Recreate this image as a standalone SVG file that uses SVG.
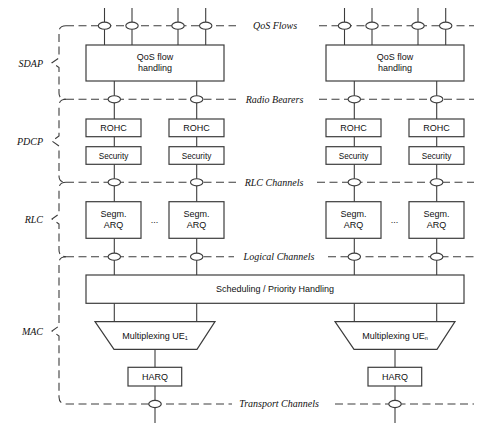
<svg xmlns="http://www.w3.org/2000/svg" width="486" height="437" viewBox="0 0 486 437">
<style>
.box{fill:#fff;stroke:#3c3c3c;stroke-width:1.2}
.ln{stroke:#3c3c3c;stroke-width:1.1;fill:none}
.dash{stroke:#3c3c3c;stroke-width:1.1;fill:none;stroke-dasharray:8,4.5}
.ov{fill:#fff;stroke:#3c3c3c;stroke-width:1.1}
.t{font-family:"Liberation Sans",Arial,sans-serif;font-size:9px;fill:#111;text-anchor:middle}
.lab{font-family:"Liberation Serif","Times New Roman",serif;font-style:italic;font-size:10px;fill:#111}
.lc{text-anchor:middle}
.lr{text-anchor:end}
</style>
<rect width="486" height="437" fill="#fff"/>
<g id="connectors">
  <!-- horizontal dashed channel lines -->
  <line class="dash" x1="66" y1="25.7" x2="236" y2="25.7"/>
  <line class="dash" x1="319" y1="25.7" x2="474" y2="25.7"/>
  <line class="dash" x1="66" y1="99.3" x2="236" y2="99.3"/>
  <line class="dash" x1="319" y1="99.3" x2="474" y2="99.3"/>
  <line class="dash" x1="66" y1="182.3" x2="236" y2="182.3"/>
  <line class="dash" x1="317" y1="182.3" x2="474" y2="182.3"/>
  <line class="dash" x1="66" y1="256.7" x2="234" y2="256.7"/>
  <line class="dash" x1="328" y1="256.7" x2="474" y2="256.7"/>
  <line class="dash" x1="66" y1="404" x2="232" y2="404"/>
  <line class="dash" x1="335" y1="404" x2="474" y2="404"/>
  <!-- left braces -->
  <path class="dash" d="M66,25.7 Q59,25.7 59,32 V58 L52,62.7 L59,67.5 V93 Q59,99.3 66,99.3"/>
  <path class="dash" d="M66,99.3 Q59,99.3 59,106 V136 L52,141 L59,146 V176 Q59,182.3 66,182.3"/>
  <path class="dash" d="M66,182.3 Q59,182.3 59,189 V214 L52,219 L59,224 V250 Q59,256.7 66,256.7"/>
  <path class="dash" d="M66,256.7 Q59,256.7 59,263 V326 L52,331 L59,336 V397 Q59,404 66,404"/>
  <!-- top flow lines -->
  <line class="ln" x1="104.5" y1="8" x2="104.5" y2="45"/>
  <line class="ln" x1="132" y1="8" x2="132" y2="45"/>
  <line class="ln" x1="178" y1="8" x2="178" y2="45"/>
  <line class="ln" x1="205.7" y1="8" x2="205.7" y2="45"/>
  <line class="ln" x1="344.5" y1="8" x2="344.5" y2="45"/>
  <line class="ln" x1="372" y1="8" x2="372" y2="45"/>
  <line class="ln" x1="418" y1="8" x2="418" y2="45"/>
  <line class="ln" x1="445.7" y1="8" x2="445.7" y2="45"/>
  <!-- bearer lines through stacks -->
  <line class="ln" x1="114.3" y1="81" x2="114.3" y2="322"/>
  <line class="ln" x1="196.7" y1="81" x2="196.7" y2="322"/>
  <line class="ln" x1="354.3" y1="81" x2="354.3" y2="322"/>
  <line class="ln" x1="436.7" y1="81" x2="436.7" y2="322"/>
  <!-- mux to HARQ to transport -->
  <line class="ln" x1="155" y1="349" x2="155" y2="423"/>
  <line class="ln" x1="395" y1="349" x2="395" y2="423"/>
  <!-- ovals -->
  <ellipse class="ov" cx="104.5" cy="25.7" rx="6.2" ry="3.6"/>
  <ellipse class="ov" cx="132" cy="25.7" rx="6.2" ry="3.6"/>
  <ellipse class="ov" cx="178" cy="25.7" rx="6.2" ry="3.6"/>
  <ellipse class="ov" cx="205.7" cy="25.7" rx="6.2" ry="3.6"/>
  <ellipse class="ov" cx="344.5" cy="25.7" rx="6.2" ry="3.6"/>
  <ellipse class="ov" cx="372" cy="25.7" rx="6.2" ry="3.6"/>
  <ellipse class="ov" cx="418" cy="25.7" rx="6.2" ry="3.6"/>
  <ellipse class="ov" cx="445.7" cy="25.7" rx="6.2" ry="3.6"/>
  <ellipse class="ov" cx="114.3" cy="99.3" rx="6.2" ry="3.6"/>
  <ellipse class="ov" cx="196.7" cy="99.3" rx="6.2" ry="3.6"/>
  <ellipse class="ov" cx="354.3" cy="99.3" rx="6.2" ry="3.6"/>
  <ellipse class="ov" cx="436.7" cy="99.3" rx="6.2" ry="3.6"/>
  <ellipse class="ov" cx="114.3" cy="182.3" rx="6.2" ry="3.6"/>
  <ellipse class="ov" cx="196.7" cy="182.3" rx="6.2" ry="3.6"/>
  <ellipse class="ov" cx="354.3" cy="182.3" rx="6.2" ry="3.6"/>
  <ellipse class="ov" cx="436.7" cy="182.3" rx="6.2" ry="3.6"/>
  <ellipse class="ov" cx="114.3" cy="256.7" rx="6.2" ry="3.6"/>
  <ellipse class="ov" cx="196.7" cy="256.7" rx="6.2" ry="3.6"/>
  <ellipse class="ov" cx="354.3" cy="256.7" rx="6.2" ry="3.6"/>
  <ellipse class="ov" cx="436.7" cy="256.7" rx="6.2" ry="3.6"/>
  <ellipse class="ov" cx="155" cy="404" rx="6.2" ry="3.6"/>
  <ellipse class="ov" cx="395" cy="404" rx="6.2" ry="3.6"/>
</g>
<g id="channel-labels">
  <text class="lab lc" x="275" y="29">QoS Flows</text>
  <text class="lab lc" x="274.5" y="102.7">Radio Bearers</text>
  <text class="lab lc" x="274" y="185.7">RLC Channels</text>
  <text class="lab lc" x="279" y="260">Logical Channels</text>
  <text class="lab lc" x="279" y="407.3">Transport Channels</text>
</g>
<g id="layer-labels">
  <text class="lab lr" x="43" y="66.5">SDAP</text>
  <text class="lab lr" x="43" y="144.5">PDCP</text>
  <text class="lab lr" x="43" y="222.5">RLC</text>
  <text class="lab lr" x="43" y="334.5">MAC</text>
</g>
<g id="qos1"><rect class="box" x="86" y="45" width="138" height="36"/><text class="t" x="155" y="60">QoS flow</text><text class="t" x="155" y="70.5">handling</text></g>
<g id="qos2"><rect class="box" x="326" y="45" width="138" height="36"/><text class="t" x="395" y="60">QoS flow</text><text class="t" x="395" y="70.5">handling</text></g>
<g id="rohc1"><rect class="box" x="86" y="119" width="55" height="17.7"/><text class="t" x="113.5" y="131">ROHC</text></g>
<g id="rohc2"><rect class="box" x="169" y="119" width="55" height="17.7"/><text class="t" x="196.5" y="131">ROHC</text></g>
<g id="rohc3"><rect class="box" x="326" y="119" width="55" height="17.7"/><text class="t" x="353.5" y="131">ROHC</text></g>
<g id="rohc4"><rect class="box" x="409" y="119" width="55" height="17.7"/><text class="t" x="436.5" y="131">ROHC</text></g>
<g id="sec1"><rect class="box" x="86" y="146.7" width="55" height="17.6"/><text class="t" x="113.5" y="158.5" style="font-size:8.2px">Security</text></g>
<g id="sec2"><rect class="box" x="169" y="146.7" width="55" height="17.6"/><text class="t" x="196.5" y="158.5" style="font-size:8.2px">Security</text></g>
<g id="sec3"><rect class="box" x="326" y="146.7" width="55" height="17.6"/><text class="t" x="353.5" y="158.5" style="font-size:8.2px">Security</text></g>
<g id="sec4"><rect class="box" x="409" y="146.7" width="55" height="17.6"/><text class="t" x="436.5" y="158.5" style="font-size:8.2px">Security</text></g>
<g id="rlc1"><rect class="box" x="86" y="201.7" width="55" height="36.6"/><text class="t" x="113.5" y="216.5">Segm.</text><text class="t" x="113.5" y="227.5">ARQ</text></g>
<g id="rlc2"><rect class="box" x="169" y="201.7" width="55" height="36.6"/><text class="t" x="196.5" y="216.5">Segm.</text><text class="t" x="196.5" y="227.5">ARQ</text></g>
<g id="rlc3"><rect class="box" x="326" y="201.7" width="55" height="36.6"/><text class="t" x="353.5" y="216.5">Segm.</text><text class="t" x="353.5" y="227.5">ARQ</text></g>
<g id="rlc4"><rect class="box" x="409" y="201.7" width="55" height="36.6"/><text class="t" x="436.5" y="216.5">Segm.</text><text class="t" x="436.5" y="227.5">ARQ</text></g>
<g id="dots1"><text class="t" x="154.5" y="223">...</text></g>
<g id="dots2"><text class="t" x="394.5" y="223">...</text></g>
<g id="sched"><rect class="box" x="86" y="275" width="378" height="28.3"/><text class="t" x="275" y="292">Scheduling / Priority Handling</text></g>
<g id="mux1"><path class="box" d="M95,321.7 H215 L197,349.3 H114 Z"/><text class="t" x="155" y="338.5">Multiplexing UE<tspan font-size="5.5" dy="1.5">1</tspan></text></g>
<g id="mux2"><path class="box" d="M335,321.7 H455 L437,349.3 H354 Z"/><text class="t" x="395" y="338.5">Multiplexing UE<tspan font-size="5.5" dy="1.5">n</tspan></text></g>
<g id="harq1"><rect class="box" x="128" y="367.3" width="53.7" height="18.7"/><text class="t" x="155" y="380">HARQ</text></g>
<g id="harq2"><rect class="box" x="368" y="367.3" width="53.7" height="18.7"/><text class="t" x="395" y="380">HARQ</text></g>
</svg>
